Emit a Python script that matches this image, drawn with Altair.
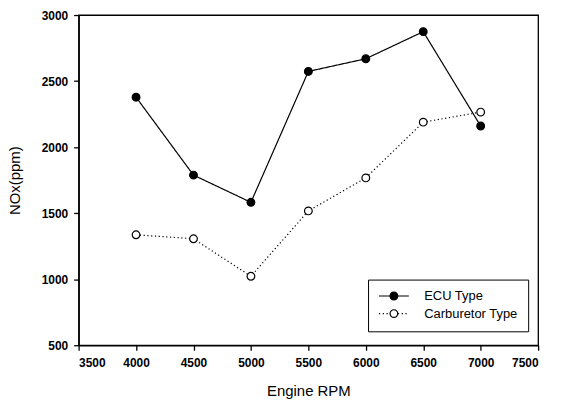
import altair as alt
import pandas as pd

rpm = [4000, 4500, 5000, 5500, 6000, 6500, 7000]
ecu = [2378, 1788, 1582, 2573, 2669, 2874, 2160]
carb = [1336, 1306, 1022, 1517, 1767, 2189, 2265]
series_names = ["ECU Type", "Carburetor Type"]
x_ticks = [3500, 4000, 4500, 5000, 5500, 6000, 6500, 7000, 7500]
y_ticks = [500, 1000, 1500, 2000, 2500, 3000]

rows = []
for r, v in zip(rpm, ecu):
    rows.append({"rpm": r, "nox": v, "series": series_names[0]})
for r, v in zip(rpm, carb):
    rows.append({"rpm": r, "nox": v, "series": series_names[1]})
df = pd.DataFrame(rows)

FONT = "Liberation Sans"

x_enc = alt.X("rpm:Q", scale=alt.Scale(domain=[3500, 7500], nice=False, zero=False),
              axis=alt.Axis(values=x_ticks, title="Engine RPM", grid=False, format="d",
                            labelFontWeight="bold", labelPadding=7,
                            titleY=51, titleBaseline="alphabetic"))
y_enc = alt.Y("nox:Q", scale=alt.Scale(domain=[500, 3000], nice=False, zero=False),
              axis=alt.Axis(values=y_ticks, title="NOx(ppm)", grid=False, format="d",
                            labelFontWeight="bold", labelPadding=6,
                            titleX=-59, titleBaseline="alphabetic"))

line_legend = alt.Legend(
    title=None, orient="none", legendX=291, legendY=266,
    symbolType="M-3.75,0L-1,0M1,0L3.75,0", symbolSize=64,
    symbolStrokeColor="black", symbolStrokeWidth=1.2, symbolFillColor="transparent",
    symbolOffset=9.5, labelOffset=24, padding=10, rowPadding=3.7,
    strokeColor="black", fillColor="white",
    labelFont=FONT, labelFontSize=13, labelColor="black",
)
point_legend = alt.Legend(
    title=None, orient="none", legendX=291, legendY=266,
    symbolType="circle", symbolSize=60,
    symbolStrokeColor="black", symbolStrokeWidth=1.2,
    symbolOffset=9.5, labelOffset=24, padding=10, rowPadding=3.7,
    labelFont=FONT, labelFontSize=13, labelOpacity=0,
)

lines = alt.Chart(df).mark_line(color="black", strokeWidth=1.2).encode(
    x=x_enc, y=y_enc,
    strokeDash=alt.StrokeDash("series:N",
                              scale=alt.Scale(domain=series_names, range=[[1, 0], [1.2, 2.6]]),
                              legend=line_legend),
)
points = alt.Chart(df).mark_point(shape="circle", filled=True, stroke="black",
                                  strokeWidth=1.2, size=60, opacity=1).encode(
    x=x_enc, y=y_enc,
    fill=alt.Fill("series:N", sort="descending",
                  scale=alt.Scale(range=["black", "white"]),
                  legend=point_legend),
)

chart = alt.layer(lines, points).properties(
    width=462, height=332,
    padding={"left": 71, "top": 6, "right": 20, "bottom": 55},
    autosize=alt.AutoSizeParams(type="none"),
    background="white",
).configure_view(
    stroke="black", strokeWidth=1.3
).configure_axis(
    domainColor="black", domainWidth=1.5, tickColor="black", tickWidth=1.3, tickSize=5,
    labelFont=FONT, labelFontSize=12, labelColor="black",
    titleFont=FONT, titleFontSize=15, titleFontWeight="normal", titleColor="black",
)

chart.save("out.html", embed_options={"renderer": "svg", "actions": False})
